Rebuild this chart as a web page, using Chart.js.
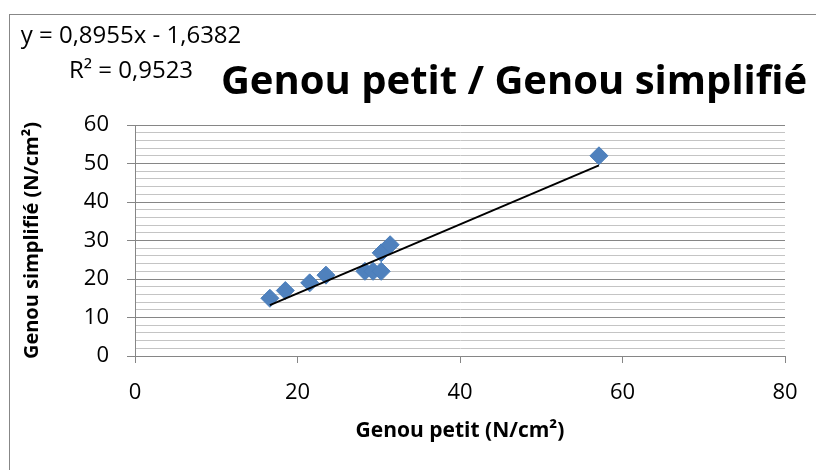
<!DOCTYPE html>
<html>
<head>
<meta charset="utf-8">
<script src="https://cdn.jsdelivr.net/npm/chart.js@4.4.1/dist/chart.umd.min.js"></script>
<style>
html,body{margin:0;padding:0;background:#fff;}
canvas{display:block;}
</style>
</head>
<body>
<canvas id="c" width="816" height="470"></canvas>
<script>
// Data
const genouPetit = [16.6, 18.5, 21.5, 23.5, 28.3, 29.3, 30.3, 30.3, 31.4, 57.1];
const genouSimplifie = [15, 17, 19, 21, 22, 22, 22, 26.8, 28.9, 52];
const trendSlope = 0.8955;
const trendIntercept = -1.6382;
const equationText = 'y = 0,8955x - 1,6382';
const r2Text = 'R² = 0,9523';
const chartTitle = 'Genou petit / Genou simplifié';
const xAxisTitle = 'Genou petit (N/cm²)';
const yAxisTitle = 'Genou simplifié (N/cm²)';
const xTicks = [0, 20, 40, 60, 80];
const yTicks = [0, 10, 20, 30, 40, 50, 60];

const FONT = "'Open Sans', sans-serif";

const points = genouPetit.map((x, i) => ({x: x, y: genouSimplifie[i]}));
const xMin = Math.min(...genouPetit), xMax = Math.max(...genouPetit);
const trend = [xMin, xMax].map(x => ({x: x, y: trendSlope * x + trendIntercept}));

const decor = {
  id: 'decor',
  beforeDraw(chart) {
    const ctx = chart.ctx;
    ctx.save();
    ctx.fillStyle = '#fff';
    ctx.fillRect(0, 0, chart.width, chart.height);
    ctx.strokeStyle = '#878787';
    ctx.lineWidth = 1;
    ctx.strokeRect(9.5, 14.5, 1000, 1000);
    ctx.restore();
  },
  afterDraw(chart) {
    const ctx = chart.ctx;
    ctx.save();
    ctx.fillStyle = '#000';
    ctx.textBaseline = 'alphabetic';
    ctx.textAlign = 'center';
    ctx.font = "bold 40px " + FONT;
    ctx.fillText(chartTitle, 514, 94);
    ctx.font = "24px " + FONT;
    ctx.fillText(equationText, 131, 43);
    ctx.fillText(r2Text, 131, 78);
    ctx.restore();
  }
};

new Chart(document.getElementById('c'), {
  type: 'scatter',
  data: {
    datasets: [
      {
        type: 'line',
        data: trend,
        borderColor: '#000',
        borderWidth: 2,
        pointRadius: 0,
        fill: false,
        order: 0
      },
      {
        data: points,
        pointStyle: 'rectRot',
        pointRadius: 9,
        pointHoverRadius: 9,
        backgroundColor: '#4F81BD',
        borderColor: '#4A7EBB',
        borderWidth: 1,
        order: 1
      }
    ]
  },
  options: {
    responsive: false,
    devicePixelRatio: 1,
    animation: false,
    layout: {padding: {top: 125, right: 31, left: 0, bottom: 0}},
    plugins: {legend: {display: false}, tooltip: {enabled: false}, title: {display: false}},
    scales: {
      x: {
        type: 'linear',
        min: 0, max: 80,
        afterBuildTicks(scale) { scale.ticks = xTicks.map(v => ({value: v})); },
        afterFit(scale) { scale.height = 114; },
        ticks: {color: '#000', font: {family: FONT, size: 22}, padding: 17, maxRotation: 0},
        grid: {drawOnChartArea: false, drawTicks: true, tickLength: 7, color: '#868686'},
        border: {color: '#868686', width: 1},
        title: {display: true, text: xAxisTitle, color: '#000', font: {family: FONT, size: 21, weight: 'bold'}, padding: {top: 0, bottom: 26}}
      },
      y: {
        type: 'linear',
        min: 0, max: 60,
        ticks: {
          stepSize: 2,
          color: '#000',
          font: {family: FONT, size: 22},
          padding: 18,
          autoSkip: false,
          callback: v => (yTicks.includes(v) ? v : '')
        },
        afterFit(scale) { scale.width = 135; },
        grid: {
          drawTicks: true,
          tickLength: 8,
          color: ctx => (yTicks.includes(ctx.tick && ctx.tick.value) ? '#868686' : '#c4c4c4'),
          tickColor: ctx => (yTicks.includes(ctx.tick && ctx.tick.value) ? '#868686' : 'rgba(0,0,0,0)')
        },
        border: {color: '#868686', width: 1},
        title: {display: true, text: yAxisTitle, color: '#000', font: {family: FONT, size: 20, weight: 'bold'}, padding: {top: 20, bottom: 0}}
      }
    }
  },
  plugins: [decor]
});
</script>
</body>
</html>
